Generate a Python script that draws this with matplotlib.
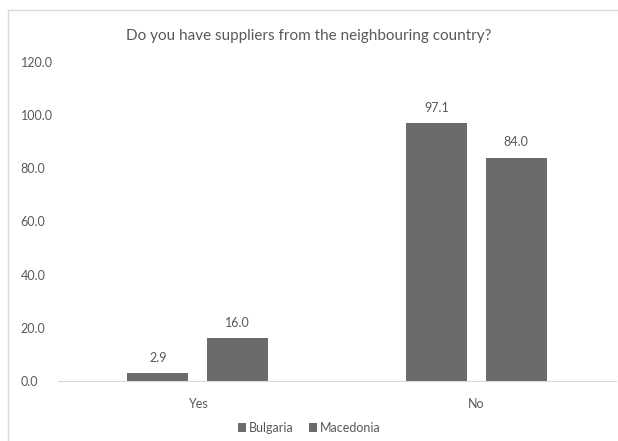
import numpy as np
import matplotlib
matplotlib.use('Agg')
import matplotlib.pyplot as plt
from matplotlib.patches import Rectangle

categories = ["Yes", "No"]
bulgaria = [2.9, 97.1]
macedonia = [16.0, 84.0]
yticks = [0, 20, 40, 60, 80, 100, 120]

bar_color = '#6b6b6b'
text_color = '#595959'
plt.rcParams['font.family'] = ['Lato', 'DejaVu Sans']

fig = plt.figure(figsize=(6.18, 4.41), dpi=100)
# chart frame, open at the bottom and right
fig.patches.append(Rectangle((8/618, -0.05), 1.0, 1.05 - 10/441, transform=fig.transFigure,
                             fill=False, edgecolor='#d9d9d9', linewidth=1.0))
ax = fig.add_axes([58/618, 1 - 381/441, 558/618, 319/441])

x = np.arange(len(categories))
w = 0.219
off = 0.142
b1 = ax.bar(x - off, bulgaria, w, color=bar_color, label='Bulgaria')
b2 = ax.bar(x + off, macedonia, w, color=bar_color, label='Macedonia')
for bars, vals in ((b1, bulgaria), (b2, macedonia)):
    for rect, v in zip(bars, vals):
        ax.text(rect.get_x() + rect.get_width() / 2, v + 3.5, f"{v:.1f}",
                ha='center', va='bottom', fontsize=9, color=text_color)

ax.set_xlim(-0.5, 1.5)
ax.set_ylim(0, 120)
ax.set_xticks(x)
ax.set_xticklabels(categories)
ax.set_yticks(yticks)
ax.set_yticklabels([f"{t:.1f}" for t in yticks])
ax.tick_params(length=0, labelsize=9, colors=text_color)
ax.tick_params(axis='x', pad=12)
ax.tick_params(axis='y', pad=27)
for lbl in ax.get_yticklabels():
    lbl.set_horizontalalignment('left')
for s in ['top', 'right', 'left']:
    ax.spines[s].set_visible(False)
ax.spines['bottom'].set_color('#d9d9d9')

fig.text(0.5, 1 - 36/441, "Do you have suppliers from the neighbouring country?",
         ha='center', va='center', fontsize=11, color=text_color)

fig.legend(handles=[b1, b2], loc='center', bbox_to_anchor=(0.5, 1 - 428/441),
           ncol=2, frameon=False, fontsize=9, labelcolor=text_color,
           handlelength=0.7, handleheight=0.7, handletextpad=0.2, columnspacing=1.2)

fig.savefig('out.png', dpi=100)
